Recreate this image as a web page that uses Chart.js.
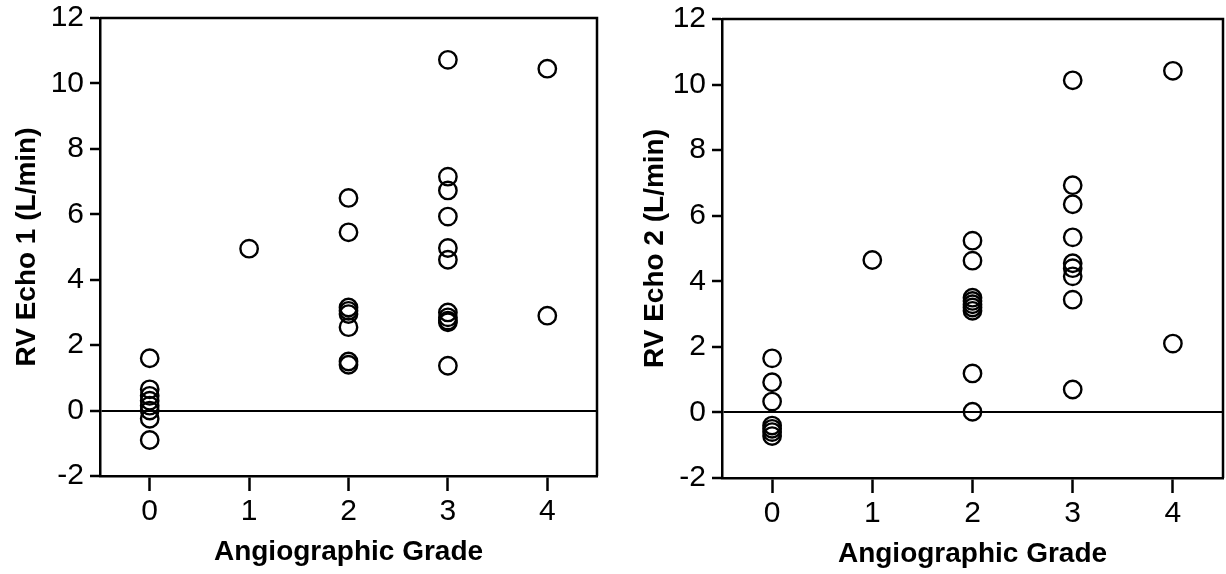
<!DOCTYPE html>
<html>
<head>
<meta charset="utf-8">
<script src="https://cdn.jsdelivr.net/npm/chart.js@4.4.1/dist/chart.umd.min.js"></script>
<style>
  html, body { margin: 0; padding: 0; background: #fff; }
  #wrap { position: relative; width: 1226px; height: 574px; }
  #c1 { position: absolute; left: 0; top: 0; }
  #c2 { position: absolute; left: 600px; top: 0; }
</style>
</head>
<body>
<div id="wrap">
  <canvas id="c1" width="600" height="574"></canvas>
  <canvas id="c2" width="626" height="574"></canvas>
</div>
<script>
// angiographic grade of each point
const grades1 = [0, 0, 0, 0, 0, 0, 0, 0,
                 1,
                 2, 2, 2, 2, 2, 2, 2, 2,
                 3, 3, 3, 3, 3, 3, 3, 3, 3, 3, 3,
                 4, 4];
const echo1 = [1.6, 0.65, 0.45, 0.3, 0.15, 0.0, -0.25, -0.9,
               4.95,
               6.5, 5.45, 3.15, 3.05, 2.95, 2.55, 1.5, 1.4,
               10.72, 7.15, 6.73, 5.93, 4.97, 4.61, 3.0, 2.85, 2.75, 2.7, 1.37,
               10.45, 2.9];

const grades2 = [0, 0, 0, 0, 0, 0, 0,
                 1,
                 2, 2, 2, 2, 2, 2, 2, 2, 2,
                 3, 3, 3, 3, 3, 3, 3, 3, 3,
                 4, 4];
const echo2 = [1.65, 0.92, 0.33, -0.4, -0.5, -0.6, -0.72,
               4.65,
               5.24, 4.63, 3.5, 3.4, 3.3, 3.2, 3.1, 1.19, 0.02,
               10.13, 6.93, 6.35, 5.34, 4.55, 4.4, 4.15, 3.44, 0.7,
               10.42, 2.1];

const xTicks = [0, 1, 2, 3, 4];
const yMin = -2, yMax = 12, yStep = 2;

const font = "'Liberation Sans', Arial, sans-serif";

// top and right frame lines
const framePlugin = {
    id: "frame",
    afterDraw(chart) {
        const a = chart.chartArea;
        const c = chart.ctx;
        c.save();
        c.strokeStyle = "#000";
        c.lineWidth = 2.5;
        c.beginPath();
        c.moveTo(a.left, a.top);
        c.lineTo(a.right, a.top);
        c.lineTo(a.right, a.bottom);
        c.stroke();
        c.restore();
    }
};

function makeChart(id, xs, ys, yTitle, opts) {
    const points = xs.map((x, i) => ({ x: x, y: ys[i] }));
    return new Chart(document.getElementById(id), {
        type: "scatter",
        data: {
            datasets: [{
                data: points,
                pointStyle: "circle",
                pointRadius: 8.7,
                pointHoverRadius: 8.7,
                pointBorderWidth: 2.4,
                borderColor: "#000",
                backgroundColor: "rgba(0,0,0,0)"
            }]
        },
        plugins: [framePlugin],
        options: {
            responsive: false,
            animation: false,
            events: [],
            layout: { autoPadding: false, padding: { top: opts.top, right: 3, left: 0, bottom: 0 } },
            plugins: { legend: { display: false }, tooltip: { enabled: false } },
            scales: {
                x: {
                    type: "linear",
                    min: -0.5,
                    max: 4.5,
                    afterBuildTicks: s => { s.ticks = xTicks.map(v => ({ value: v })); },
                    afterFit: s => {
                        s.height = 574 - opts.bottom;
                        s.paddingLeft = 0;
                        s.paddingRight = 0;
                    },
                    grid: { drawOnChartArea: false, tickLength: 15, tickColor: "#000", tickWidth: 2.5 },
                    border: { display: true, color: "#000", width: 2.5 },
                    ticks: { color: "#000", font: { family: font, size: 30 }, padding: 3 },
                    title: {
                        display: true,
                        text: "Angiographic Grade",
                        color: "#000",
                        font: { family: font, size: 28, weight: "bold" },
                        padding: { top: 0, bottom: opts.xTitlePad }
                    }
                },
                y: {
                    min: yMin,
                    max: yMax,
                    afterFit: s => {
                        s.width = opts.left;
                        s.paddingTop = 0;
                        s.paddingBottom = 0;
                    },
                    grid: {
                        color: c => c.tick && c.tick.value === 0 ? "#000" : "rgba(0,0,0,0)",
                        lineWidth: 2,
                        tickColor: "#000",
                        tickWidth: 2.5,
                        tickLength: 10
                    },
                    border: { display: true, color: "#000", width: 2.5 },
                    ticks: { stepSize: yStep, color: "#000", font: { family: font, size: 30 }, padding: 6 },
                    title: {
                        display: true,
                        text: yTitle,
                        color: "#000",
                        font: { family: font, size: 28, weight: "bold" },
                        padding: { top: opts.yTitlePad, bottom: 0 }
                    }
                }
            }
        }
    });
}

makeChart("c1", grades1, echo1, "RV Echo 1 (L/min)",
    { top: 18, bottom: 476, left: 100, yTitlePad: 10, xTitlePad: 5 });
makeChart("c2", grades2, echo2, "RV Echo 2 (L/min)",
    { top: 19, bottom: 478, left: 122, yTitlePad: 38, xTitlePad: 3 });
</script>
</body>
</html>
